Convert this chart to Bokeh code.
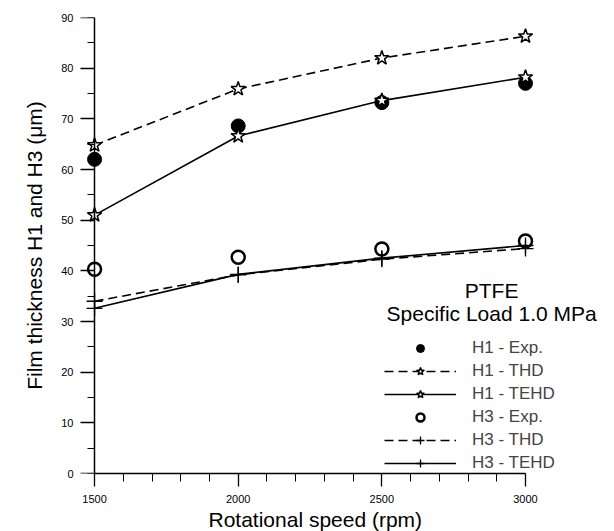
from bokeh.plotting import figure
from bokeh.models import Legend, LegendItem, Label, SingleIntervalTicker, Range1d, LinearAxis, Title
from bokeh.embed import file_html
from bokeh.resources import INLINE

speed = [1500, 2000, 2500, 3000]
h1_exp = [62.0, 68.6, 73.2, 77.0]
h1_thd = [64.8, 75.9, 82.0, 86.3]
h1_tehd = [51.0, 66.6, 73.6, 78.2]
h3_exp = [40.3, 42.7, 44.3, 45.9]
h3_thd = [34.0, 39.2, 42.3, 44.4]
h3_tehd = [32.6, 39.3, 42.5, 45.0]

FONT = "Liberation Sans"

p = figure(width=614, height=531, output_backend="svg", toolbar_location=None,
           x_range=Range1d(1451, 3275), y_range=Range1d(0, 90),
           min_border_left=80, min_border_right=10, min_border_top=17, min_border_bottom=58)
p.outline_line_color = None
p.grid.visible = False
p.background_fill_color = "white"

# bottom axis
xa = p.xaxis[0]
xa.ticker = SingleIntervalTicker(interval=500, num_minor_ticks=5)
xa.bounds = (1500, 3000)
xa.axis_line_color = "black"
xa.axis_line_width = 1.5
xa.major_tick_line_width = 1.3
xa.major_tick_in = 0
xa.minor_tick_in = 0
xa.major_tick_out = 13
xa.minor_tick_out = 8
xa.major_label_standoff = 8
xa.major_label_text_font = FONT
xa.major_label_text_font_size = "11px"
xa.major_label_text_color = "black"

# left axis: only labels
ya = p.yaxis[0]
ya.ticker = SingleIntervalTicker(interval=10, num_minor_ticks=2)
ya.axis_line_color = None
ya.major_tick_line_color = None
ya.minor_tick_line_color = None
ya.major_tick_out = 0
ya.minor_tick_out = 0
ya.major_tick_in = 0
ya.minor_tick_in = 0
ya.major_label_standoff = 7
ya.major_label_text_font = FONT
ya.major_label_text_font_size = "11px"
ya.major_label_text_color = "black"
ya.axis_label = "Film thickness H1 and H3 (μm)"
ya.axis_label_text_font = FONT
ya.axis_label_text_font_size = "21px"
ya.axis_label_text_font_style = "normal"
ya.axis_label_text_color = "black"
ya.axis_label_standoff = 12

# y axis line and ticks drawn at x = 1500
yline = LinearAxis(ticker=SingleIntervalTicker(interval=10, num_minor_ticks=2), fixed_location=1500,
                   axis_line_color="black", axis_line_width=1.5,
                   major_tick_line_width=1.3, major_tick_out=0, minor_tick_out=0,
                   major_tick_in=15, minor_tick_in=7, major_label_text_alpha=0,
                   major_label_text_font_size="1px")
p.add_layout(yline, "right")

p.add_layout(Title(text="Rotational speed (rpm)", align="left", offset=128,
                   text_font=FONT, text_font_size="21px", text_font_style="normal",
                   text_color="black", standoff=0), "below")

DASH = "9 5"
lw = 1.6

r1e = p.scatter(speed, h1_exp, marker="circle", size=14, fill_color="black", line_color="black")
l1t = p.line(speed, h1_thd, line_dash=DASH, line_width=lw, line_color="black")
s1t = p.scatter(speed, h1_thd, marker="star", size=15, fill_color="white", line_color="black", line_width=1.5)
l1h = p.line(speed, h1_tehd, line_width=lw, line_color="black")
s1h = p.scatter(speed, h1_tehd, marker="star", size=15, fill_color="white", line_color="black", line_width=1.5)
r3e = p.scatter(speed, h3_exp, marker="circle", size=13, fill_color="white", line_color="black", line_width=2.5)
l3t = p.line(speed, h3_thd, line_dash=DASH, line_width=lw, line_color="black")
s3t = p.scatter(speed, h3_thd, marker="cross", size=16, line_color="black", line_width=1.3)
l3h = p.line(speed, h3_tehd, line_width=lw, line_color="black")
s3h = p.scatter(speed, h3_tehd, marker="cross", size=16, line_color="black", line_width=1.3)

legend = Legend(items=[
    LegendItem(label="H1 - Exp.", renderers=[r1e]),
    LegendItem(label="H1 - THD", renderers=[l1t, s1t]),
    LegendItem(label="H1 - TEHD", renderers=[l1h, s1h]),
    LegendItem(label="H3 - Exp.", renderers=[r3e]),
    LegendItem(label="H3 - THD", renderers=[l3t, s3t]),
    LegendItem(label="H3 - TEHD", renderers=[l3h, s3h]),
], location=(304, 0), border_line_color=None, background_fill_alpha=0,
    padding=0, margin=0, spacing=3, glyph_width=72, glyph_height=20, label_height=20,
    label_standoff=16, label_text_font=FONT, label_text_font_size="17px")
p.add_layout(legend, "center")

p.add_layout(Label(x=2882, y=36.1, text="PTFE", text_align="center", text_baseline="middle",
                   text_font=FONT, text_font_size="21px", text_color="black"))
p.add_layout(Label(x=2882, y=31.6, text="Specific Load 1.0 MPa", text_align="center",
                   text_baseline="middle", text_font=FONT, text_font_size="21px", text_color="black"))

open("out.html", "w").write(file_html(p, INLINE))
